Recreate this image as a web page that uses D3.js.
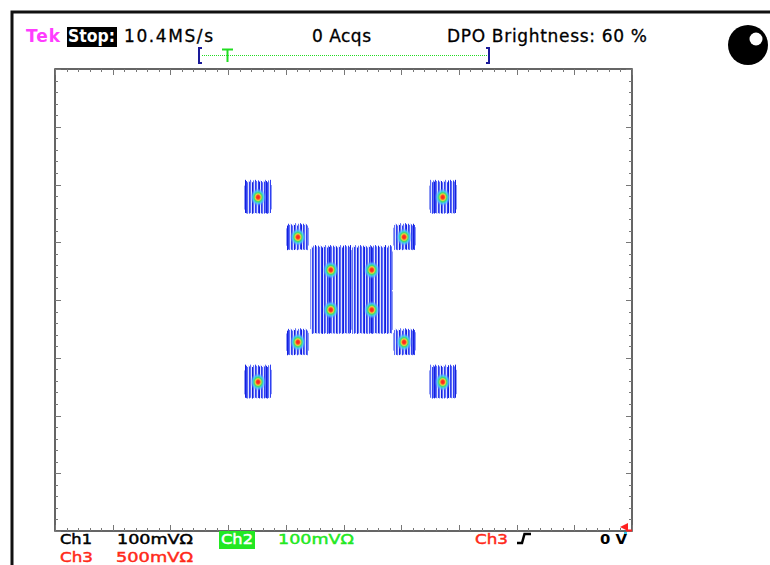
<!DOCTYPE html>
<html>
<head>
<meta charset="utf-8">
<script src="https://cdn.jsdelivr.net/npm/d3@7"></script>
<style>
  html, body { margin: 0; padding: 0; background: #fff; }
  svg { display: block; }
  text { font-family: "DejaVu Sans", Verdana, sans-serif; }
</style>
</head>
<body>
<svg id="scope" width="770" height="565"></svg>
<script>
// XY-mode constellation: Ch1 on the horizontal axis, Ch2 on the vertical axis (mV)
const symbolX = [-148, 172, -148, 172, -79, 105, -79, 105, -22, 49, -22, 49];
const symbolY = [178, 178, -142, -142, 109, 109, -73, -73, 52, 52, -17, -17];
// spread of each symbol cloud (half width / half height, mV)
const spreadX = [24, 24, 24, 24, 20, 20, 20, 20, 36, 36, 36, 36];
const spreadY = [28, 28, 28, 28, 22, 22, 22, 22, 41, 41, 41, 41];

// screen readouts
const headerLabels = ["Stop:", "10.4MS/s", "0 Acqs", "DPO Brightness: 60 %"];
const channelLabels = ["Ch1", "Ch2", "Ch3"];
const channelScales = ["100mVΩ", "100mVΩ", "500mVΩ"];
const triggerLevel = "0 V";

const xDivs = 10, yDivs = 8, mVPerDiv = 100;

const svg = d3.select("#scope");

const x = d3.scaleLinear().domain([-xDivs / 2 * mVPerDiv, xDivs / 2 * mVPerDiv]).range([55, 632]);
const y = d3.scaleLinear().domain([-yDivs / 2 * mVPerDiv, yDivs / 2 * mVPerDiv]).range([531, 69]);

// outer screen frame
svg.append("path")
  .attr("d", "M12,565 L12,12 L770,12")
  .attr("fill", "none").attr("stroke", "#111").attr("stroke-width", 3);

// graticule border
svg.append("rect")
  .attr("x", x.range()[0]).attr("y", y.range()[1])
  .attr("width", x.range()[1] - x.range()[0])
  .attr("height", y.range()[0] - y.range()[1])
  .attr("fill", "none").attr("stroke", "#333").attr("stroke-width", 1.5);

// edge ticks: five per division, longer at each division
const minorX = d3.range(0, xDivs * 5 + 1).map(i => x.domain()[0] + i * mVPerDiv / 5);
const minorY = d3.range(0, yDivs * 5 + 1).map(i => y.domain()[0] + i * mVPerDiv / 5);
const tickLen = (v) => (Math.abs(Math.round(v) % mVPerDiv) < 1 ? 6 : 3);
const ticks = svg.append("g").attr("stroke", "#777").attr("stroke-width", 1);
minorX.forEach(v => {
  const px = Math.round(x(v)) + 0.5, L = tickLen(v);
  ticks.append("line").attr("x1", px).attr("x2", px).attr("y1", y.range()[1]).attr("y2", y.range()[1] + L);
  ticks.append("line").attr("x1", px).attr("x2", px).attr("y1", y.range()[0]).attr("y2", y.range()[0] - L);
});
minorY.forEach(v => {
  const py = Math.round(y(v)) + 0.5, L = tickLen(v);
  ticks.append("line").attr("y1", py).attr("y2", py).attr("x1", x.range()[0]).attr("x2", x.range()[0] + L);
  ticks.append("line").attr("y1", py).attr("y2", py).attr("x1", x.range()[1]).attr("x2", x.range()[1] - L);
});

// persistence clouds drawn as vertical raster stripes
const stripeColor = (col) => {
  if (col % 7 === 0) return "#1420dc";
  const m = col % 3;
  return m === 0 ? "#2f3ff3" : (m === 1 ? "#5f6ff4" : "#dfe3fd");
};
const clouds = svg.append("g");
symbolX.forEach((sx, i) => {
  const c0 = Math.round(x(sx - spreadX[i])), c1 = Math.round(x(sx + spreadX[i]));
  const top = y(symbolY[i] + spreadY[i]), bot = y(symbolY[i] - spreadY[i]);
  d3.range(c0, c1).forEach(col => {
    const jag = ((col * 7) % 5) - 2;
    const edge = (col === c0 || col === c1 - 1);
    clouds.append("rect")
      .attr("x", col).attr("width", 1)
      .attr("y", top + (edge ? 4 : 0) + jag * 0.6)
      .attr("height", bot - top - (edge ? 8 : 0) - jag * 0.4)
      .attr("fill", edge ? "#8e9af4" : stripeColor(col));
  });
});

// hot spots at each symbol centre
const defs = svg.append("defs");
const grad = defs.append("radialGradient").attr("id", "hot");
[[0, "#ff1a1a", 1], [0.2, "#ff3a22", 1], [0.36, "#e6d23a", 1], [0.5, "#3fe070", 1],
 [0.7, "#45c8ff", 0.85], [1, "#6f80f6", 0]].forEach(([o, c, a]) =>
  grad.append("stop").attr("offset", o).attr("stop-color", c).attr("stop-opacity", a));
svg.append("g").selectAll("ellipse")
  .data(symbolX.map((sx, i) => [sx, symbolY[i]]))
  .join("ellipse")
  .attr("cx", d => x(d[0])).attr("cy", d => y(d[1]))
  .attr("rx", 8).attr("ry", 9)
  .attr("fill", "url(#hot)");

// header readouts
svg.append("text").attr("x", 26).attr("y", 42).attr("font-size", 17)
  .attr("font-weight", "bold").attr("fill", "#ff3cff").attr("textLength", 34).text("Tek");
svg.append("rect").attr("x", 67).attr("y", 27).attr("width", 50).attr("height", 20).attr("fill", "#000");
svg.append("text").attr("x", 68).attr("y", 42).attr("font-size", 17).attr("font-weight", "bold")
  .attr("fill", "#fff").attr("textLength", 47).attr("lengthAdjust", "spacingAndGlyphs").text(headerLabels[0]);
svg.append("text").attr("x", 124).attr("y", 42).attr("font-size", 17).attr("fill", "#000")
  .attr("stroke", "#000").attr("stroke-width", 0.3)
  .attr("textLength", 89).text(headerLabels[1]);
svg.append("text").attr("x", 312).attr("y", 42).attr("font-size", 17).attr("fill", "#000")
  .attr("stroke", "#000").attr("stroke-width", 0.3)
  .attr("textLength", 59).text(headerLabels[2]);
svg.append("text").attr("x", 447).attr("y", 42).attr("font-size", 17).attr("fill", "#000")
  .attr("stroke", "#000").attr("stroke-width", 0.3)
  .attr("textLength", 200).text(headerLabels[3]);

// record window bracket with trigger position
svg.append("line").attr("x1", 202).attr("x2", 488).attr("y1", 55.5).attr("y2", 55.5)
  .attr("stroke", "#22dd22").attr("stroke-width", 1).attr("stroke-dasharray", "1,1");
svg.append("path").attr("d", "M202,48 L199,48 L199,63 L202,63")
  .attr("fill", "none").attr("stroke", "#1a1a99").attr("stroke-width", 2);
svg.append("path").attr("d", "M486,48 L489,48 L489,63 L486,63")
  .attr("fill", "none").attr("stroke", "#1a1a99").attr("stroke-width", 2);
svg.append("path").attr("d", "M222,49.5 L233,49.5 M227.5,49.5 L227.5,62")
  .attr("fill", "none").attr("stroke", "#22dd22").attr("stroke-width", 2);

// run indicator
svg.append("circle").attr("cx", 748).attr("cy", 45).attr("r", 20).attr("fill", "#000");
svg.append("circle").attr("cx", 756).attr("cy", 39).attr("r", 6.5).attr("fill", "#fff");

// trigger level marker
svg.append("path").attr("d", "M620,527 L628,523 L628,531 Z").attr("fill", "#ff2020");
svg.append("line").attr("x1", 626).attr("x2", 632).attr("y1", 530.5).attr("y2", 530.5)
  .attr("stroke", "#ff2020").attr("stroke-width", 2);
svg.append("rect").attr("x", 624).attr("y", 532).attr("width", 3).attr("height", 3).attr("fill", "#33ccee");

// channel readouts
const red = "#ff2a1a", green = "#22e822";
const fs = 14;
const row1 = 544, row2 = 561.5;
const label = (x0, yy, fill, len, txt) =>
  svg.append("text").attr("x", x0).attr("y", yy).attr("font-size", fs).attr("fill", fill)
    .attr("stroke", fill).attr("stroke-width", 0.45)
    .attr("textLength", len).attr("lengthAdjust", "spacingAndGlyphs").text(txt);
label(60, row1, "#000", 32, channelLabels[0]);
label(117, row1, "#000", 76, channelScales[0]);
svg.append("rect").attr("x", 219).attr("y", 531).attr("width", 36).attr("height", 18).attr("fill", green);
label(221, row1, "#fff", 32, channelLabels[1]);
label(278, row1, green, 76, channelScales[1]);
label(475, row1, red, 33, channelLabels[2]);
svg.append("path").attr("d", "M517,543 L522,543 L524.5,534 L531,534")
  .attr("fill", "none").attr("stroke", "#000").attr("stroke-width", 2.5);
svg.append("text").attr("x", 600).attr("y", row1).attr("font-size", fs).attr("font-weight", "bold")
  .attr("fill", "#000").attr("textLength", 27).attr("lengthAdjust", "spacingAndGlyphs").text(triggerLevel);
label(60, row2, red, 33, channelLabels[2]);
label(116, row2, red, 77, channelScales[2]);
</script>
</body>
</html>
